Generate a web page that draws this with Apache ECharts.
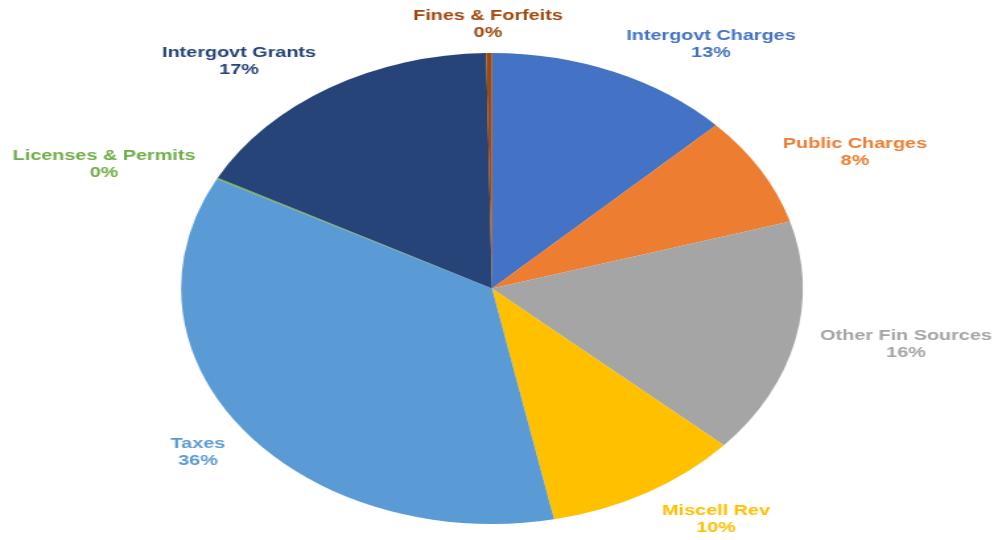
<!DOCTYPE html>
<html>
<head>
<meta charset="utf-8">
<script src="https://cdn.jsdelivr.net/npm/echarts@6/dist/echarts.min.js"></script>
<style>
  html, body { margin: 0; padding: 0; background: #ffffff; overflow: hidden; }
  #wrap { width: 994px; height: 540px; overflow: hidden; }
  #chart { width: 753px; height: 540px; transform: scaleX(1.32005); transform-origin: 0 0; }
</style>
</head>
<body>
<div id="wrap"><div id="chart"></div></div>
<script>
// ---- data ----
const categories = ['Intergovt Charges', 'Public Charges', 'Other Fin Sources', 'Miscell Rev',
                    'Taxes', 'Licenses & Permits', 'Intergovt Grants', 'Fines & Forfeits'];
const values = [12.8, 7.6, 16.2, 10.2, 35.9, 0.1, 16.9, 0.3];

// ---- styles ----
const colors = ['#4472C4', '#ED7D31', '#A5A5A5', '#FFC000',
                '#5B9BD5', '#70AD47', '#264478', '#9E480E'];
const SX = 994 / 753;               // horizontal stretch of the whole picture
// label block centres in the displayed picture (px)
const labelAnchors = [[711, 44], [855, 152], [906, 344], [716, 519],
                      [198, 452], [104, 164], [239, 61], [488, 24]];

const chart = echarts.init(document.getElementById('chart'), null, { renderer: 'canvas' });
chart.setOption({
  backgroundColor: '#ffffff',
  animation: false,
  series: [{
    type: 'pie',
    center: [492 / SX, 288.5],
    radius: [0, 235.5],
    startAngle: 90,
    clockwise: true,
    avoidLabelOverlap: false,
    itemStyle: { borderWidth: 0 },
    label: {
      show: true,
      position: 'outside',
      fontFamily: '"Liberation Sans", Arial, sans-serif',
      fontWeight: 'bold',
      fontSize: 15,
      lineHeight: 17,
      align: 'center',
      formatter: function (p) { return p.name + '\n' + Math.round(p.percent) + '%'; }
    },
    labelLine: { show: false },
    labelLayout: function (p) {
      const a = labelAnchors[p.dataIndex];
      return { x: a[0] / SX, y: a[1], align: 'center', verticalAlign: 'middle' };
    },
    emphasis: { disabled: true },
    data: categories.map(function (c, i) {
      return {
        name: c,
        value: values[i],
        itemStyle: { color: colors[i] },
        label: { color: colors[i] }
      };
    })
  }]
});
</script>
</body>
</html>
